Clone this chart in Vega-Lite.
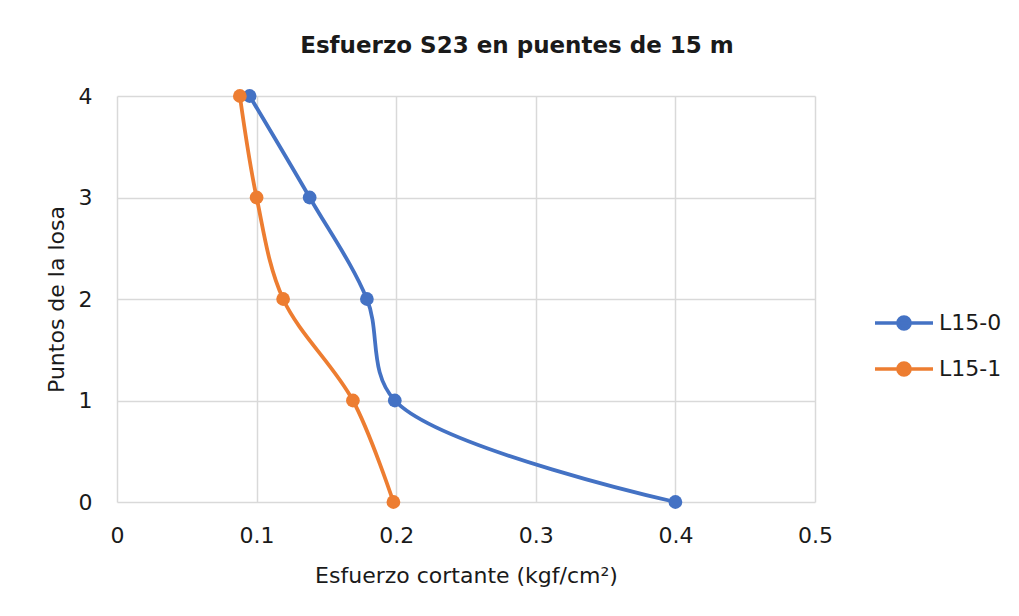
{
  "$schema": "https://vega.github.io/schema/vega-lite/v6.json",
  "autosize": {"type": "none"},
  "width": 698,
  "height": 406,
  "padding": {"left": 117, "top": 96, "right": 204, "bottom": 114},
  "background": "white",
  "title": {
    "text": "Esfuerzo S23 en puentes de 15 m",
    "font": "DejaVu Sans",
    "fontSize": 23,
    "fontWeight": "bold",
    "color": "#1a1a1a",
    "anchor": "middle",
    "dx": 51,
    "offset": 27
  },
  "config": {
    "view": {"stroke": null},
    "font": "DejaVu Sans",
    "axis": {
      "labelFont": "DejaVu Sans",
      "titleFont": "DejaVu Sans",
      "labelFontSize": 22,
      "titleFontSize": 22,
      "labelColor": "#1a1a1a",
      "titleColor": "#1a1a1a",
      "titleFontWeight": "normal",
      "gridColor": "#d9d9d9",
      "gridWidth": 1.5,
      "ticks": false,
      "domain": false
    }
  },
  "data": {
    "values": [
      {"serie": "L15-0", "x": 0.4, "y": 0},
      {"serie": "L15-0", "x": 0.199, "y": 1},
      {"serie": "L15-0", "x": 0.179, "y": 2},
      {"serie": "L15-0", "x": 0.138, "y": 3},
      {"serie": "L15-0", "x": 0.095, "y": 4},
      {"serie": "L15-1", "x": 0.198, "y": 0},
      {"serie": "L15-1", "x": 0.169, "y": 1},
      {"serie": "L15-1", "x": 0.119, "y": 2},
      {"serie": "L15-1", "x": 0.1, "y": 3},
      {"serie": "L15-1", "x": 0.088, "y": 4}
    ]
  },
  "encoding": {
    "x": {
      "field": "x",
      "type": "quantitative",
      "scale": {"domain": [0, 0.5], "nice": false},
      "axis": {
        "title": "Esfuerzo cortante (kgf/cm²)",
        "values": [0, 0.1, 0.2, 0.3, 0.4, 0.5],
        "format": "~g",
        "labelFlush": false,
        "labelPadding": 23,
        "titlePadding": 19
      }
    },
    "y": {
      "field": "y",
      "type": "quantitative",
      "scale": {"domain": [0, 4], "nice": false},
      "axis": {
        "title": "Puntos de la losa",
        "values": [0, 1, 2, 3, 4],
        "labelPadding": 25,
        "titlePadding": 10
      }
    },
    "color": {
      "field": "serie",
      "type": "nominal",
      "scale": {"domain": ["L15-0", "L15-1"], "range": ["#4472C4", "#ED7D31"]},
      "legend": {
        "title": null,
        "orient": "none",
        "legendX": 756,
        "legendY": 196,
        "labelFont": "DejaVu Sans",
        "labelFontSize": 22,
        "labelColor": "#1a1a1a",
        "symbolType": "M-1,0L1,0M-0.21,0A0.21,0.21,0,1,1,0.21,0A0.21,0.21,0,1,1,-0.21,0Z",
        "symbolSize": 3364,
        "symbolStrokeWidth": 3.5,
        "labelOffset": 4,
        "rowPadding": 1
      }
    }
  },
  "layer": [
    {
      "mark": {"type": "line", "interpolate": "catmull-rom", "strokeWidth": 3.8},
      "encoding": {"order": {"field": "y", "type": "quantitative"}}
    },
    {
      "mark": {"type": "point", "filled": true, "opacity": 1, "size": 190}
    }
  ]
}
